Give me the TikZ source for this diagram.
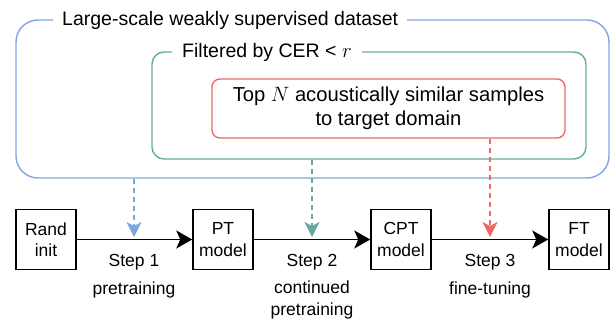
\documentclass[tikz,border=0pt]{standalone}
\usepackage{fontspec}
\setmainfont{Liberation Sans}
\usetikzlibrary{arrows.meta,positioning,calc}
\definecolor{setblue}{HTML}{7EA6E0}
\definecolor{setgreen}{HTML}{67AB9F}
\definecolor{setred}{HTML}{EA6B66}

\begin{document}
\begin{tikzpicture}[x=1pt,y=-1pt,
    modelbox/.style={draw, line width=1.5pt, minimum width=60pt, minimum height=60pt, align=center, inner sep=0pt, font=\fontsize{17.5}{21.5}\selectfont},
    setbox/.style={draw, line width=1.4pt, inner sep=0pt},
    settitle/.style={fill=white, anchor=west, inner xsep=9pt, inner ysep=2pt, font=\fontsize{19.5}{24}\selectfont},
    steplabel/.style={font=\fontsize{17.5}{21.5}\selectfont, align=center},
    mainarrow/.style={line width=1.5pt, -{Stealth[length=16pt,width=18pt,inset=4pt]}},
    feedarrow/.style={line width=1.4pt, dash pattern=on 5pt off 4pt, -{Stealth[length=15pt,width=15pt,inset=4pt]}}]
    \useasboundingbox (0,0) rectangle (615,320);

    % nested subsets of the data
    \node[setbox, draw=setblue, rounded corners=22pt, minimum width=593pt, minimum height=158pt] (dataset) at (312.5,99) {};
    \node[settitle] (datasettitle) at (53,20) {Large-scale weakly supervised dataset};
    \node[setbox, draw=setgreen, rounded corners=12pt, minimum width=434pt, minimum height=107pt] (filtered) at (369,105.5) {};
    \node[settitle, inner xsep=10pt] (filteredtitle) at (172,52) {Filtered by CER < $r$};
    \node[setbox, draw=setred, rounded corners=8pt, minimum width=353pt, minimum height=59pt, align=center, font=\fontsize{20.2}{24}\selectfont] (topn) at (388.5,108.5) {Top $N$ acoustically similar samples\\to target domain};

    % training pipeline
    \node[modelbox] (rand) at (46,239.5) {Rand\\init};
    \node[modelbox] (pt) at (223,239.5) {PT\\model};
    \node[modelbox] (cpt) at (401,239.5) {CPT\\model};
    \node[modelbox] (ft) at (579,239.5) {FT\\model};
    \draw[mainarrow] (rand) -- (pt);
    \draw[mainarrow] (pt) -- (cpt);
    \draw[mainarrow] (cpt) -- (ft);

    \node[steplabel, anchor=base] (step1) at (134,266) {Step 1};
    \node[steplabel, anchor=base] (step1desc) at (134,294) {pretraining};
    \node[steplabel, anchor=base] (step2) at (312,266) {Step 2};
    \node[steplabel, anchor=base] (step2desc) at (312,315) {continued\\pretraining};
    \node[steplabel, anchor=base] (step3) at (490,266) {Step 3};
    \node[steplabel, anchor=base] (step3desc) at (490,294) {fine-tuning};

    % data fed into each step
    \coordinate (feed1) at (134,237);
    \coordinate (feed2) at (312,237);
    \coordinate (feed3) at (490,237);
    \draw[feedarrow, setblue] (dataset.south -| feed1) -- (feed1);
    \draw[feedarrow, setgreen] (filtered.south -| feed2) -- (feed2);
    \draw[feedarrow, setred] (topn.south -| feed3) -- (feed3);
\end{tikzpicture}
\end{document}
